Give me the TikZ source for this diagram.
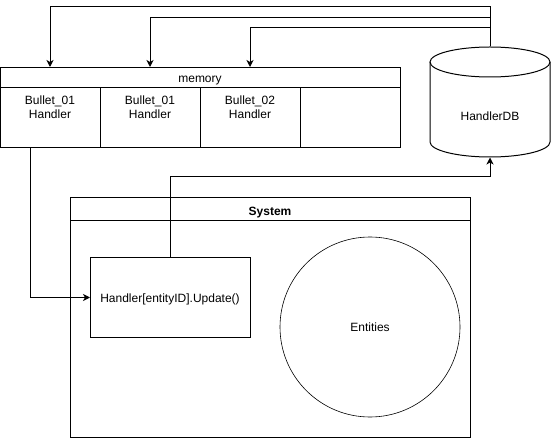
\documentclass[tikz,border=0pt]{standalone}
\usepackage{fontspec}
\setmainfont{Liberation Sans}
\usetikzlibrary{arrows.meta}
\tikzset{
  box/.style={draw, line width=1pt, inner sep=0pt, anchor=north west},
  cellbox/.style={box, minimum width=100pt, minimum height=60pt},
  celltext/.style={align=center, inner sep=0pt, anchor=base, font=\fontsize{12}{14}\selectfont},
  lbl/.style={inner sep=0pt, anchor=base, font=\fontsize{12}{14}\selectfont},
  conn/.style={draw, line width=1pt, -{Stealth[length=7pt,width=7pt,inset=2pt]}}
}
\begin{document}
\begin{tikzpicture}[x=1pt,y=-1pt,line width=1pt]
\useasboundingbox (0,0) rectangle (551,438);
\fill[white] (0,0) rectangle (551,438);
% memory
\node[box, minimum width=400pt, minimum height=80pt] (m) at (0,67) {};
\node[box, minimum width=400pt, minimum height=20pt] (mh) at (0,67) {};
\node[lbl] (mht) at (200,82.5) {memory};
\node[cellbox] (c1) at (0,87) {};
\node[cellbox] (c2) at (100,87) {};
\node[cellbox] (c3) at (200,87) {};
\node[cellbox] (c4) at (300,87) {};
\node[celltext] (t1) at (50,119) {Bullet\_01\\Handler};
\node[celltext] (t2) at (150,119) {Bullet\_01\\Handler};
\node[celltext] (t3) at (250,119) {Bullet\_02\\Handler};
% HandlerDB cylinder
\node[minimum width=120pt, minimum height=110pt, inner sep=0pt] (db) at (490,102) {};
\draw (490,62) ellipse [x radius=60pt, y radius=15pt];
\draw (430,62) -- (430,142) arc[start angle=180, end angle=360, x radius=60pt, y radius=15pt] -- (550,62);
\node[lbl] (dbt) at (490,121) {HandlerDB};
% System
\node[box, minimum width=400pt, minimum height=240pt] (sys) at (70,197) {};
\node[box, minimum width=400pt, minimum height=23pt] (sysh) at (70,197) {};
\node[lbl, font=\fontsize{12}{14}\selectfont\bfseries] (syst) at (270,215.5) {System};
\node[box, minimum width=160pt, minimum height=80pt] (hd) at (90,257) {};
\node[lbl] (hdt) at (170,302) {Handler[entityID].Update()};
\node[draw, circle, line width=0.6pt, minimum size=180pt, inner sep=0pt, font=\fontsize{12}{14}\selectfont] (ent) at (370,327) {Entities};
% connectors
\draw[conn] (db.north) -- (db.north |- 0,7) -| ([xshift=50pt]mh.north west);
\draw[conn] (db.north) -- (db.north |- 0,17.5) -| ([xshift=150pt]mh.north west);
\draw[conn] (db.north) -- (db.north |- 0,28) -| ([xshift=250pt]mh.north west);
\draw[conn] ([xshift=30pt]c1.south west) |- (hd.west);
\draw[conn] (hd.north) -- (hd.north |- 0,177) -| (db.south);
\end{tikzpicture}
\end{document}
